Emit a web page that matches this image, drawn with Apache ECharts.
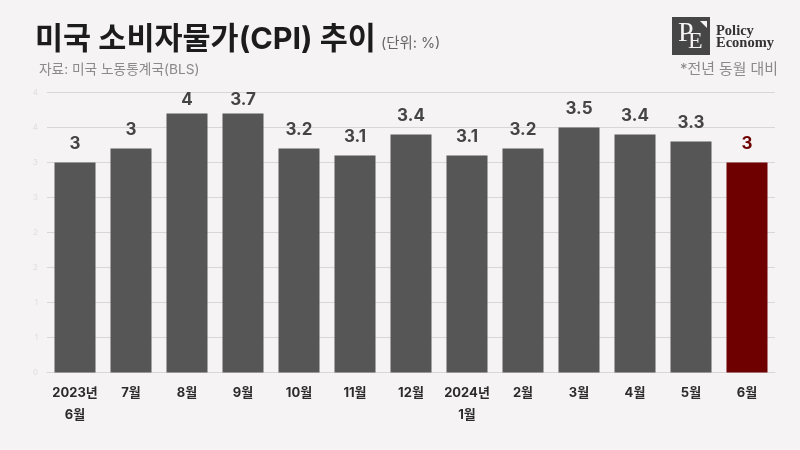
<!DOCTYPE html>
<html><head><meta charset="utf-8">
<style>html,body{margin:0;padding:0;background:#f5f3f4}#c{width:800px;height:450px}</style>
<script src="https://cdn.jsdelivr.net/npm/echarts@6/dist/echarts.min.js"></script>
</head><body><div id="c"></div>
<script>
const categories = ['2023년\n6월','7월','8월','9월','10월','11월','12월','2024년\n1월','2월','3월','4월','5월','6월'];
const values = [3, 3.2, 3.7, 3.7, 3.2, 3.1, 3.4, 3.1, 3.2, 3.5, 3.4, 3.3, 3];
const valueLabels = ['3','3','4','3.7','3.2','3.1','3.4','3.1','3.2','3.5','3.4','3.3','3'];
const yTickLabels = ['0','1','1','2','2','3','3','4','4'];
const FONT = 'Inter, "Noto Sans CJK KR", sans-serif';
const chart = echarts.init(document.getElementById('c'), null, {renderer:'canvas'});
chart.setOption({
  backgroundColor:'#f5f3f4',
  animation:false,
  textStyle:{fontFamily:FONT},
  grid:{left:47,right:25,top:92.5,bottom:77.5,containLabel:false},
  xAxis:{type:'category',data:categories,
    axisLine:{show:true,lineStyle:{color:'#d8d6d7',width:1}},
    axisTick:{show:false},
    axisLabel:{color:'#2b2b2b',fontSize:13,fontWeight:700,fontFamily:FONT,lineHeight:22,margin:10,interval:0}},
  yAxis:{type:'value',min:0,max:4,interval:0.5,
    axisLine:{show:false},axisTick:{show:false},
    splitLine:{lineStyle:{color:'#d8d6d7',width:1}},
    axisLabel:{color:'#dfddde',fontSize:8,margin:9,fontFamily:FONT,
      formatter:(v)=>yTickLabels[Math.round(v*2)]}},
  series:[{type:'bar',barWidth:41,
    data:values.map((v,i)=>({value:v,
      itemStyle:{color:i===values.length-1?'#6e0000':'#565656'},
      label:{color:i===values.length-1?'#6e0000':'#444444',distance:v>=3.7?5:10}})),
    label:{show:true,position:'top',fontSize:17,fontWeight:700,fontFamily:FONT,
      formatter:(p)=>valueLabels[p.dataIndex]}}],
  graphic:[
    {type:'text',left:35,top:25,style:{text:'미국 소비자물가(CPI) 추이',fontSize:30.5,fontWeight:700,fill:'#1c1c1c',fontFamily:FONT}},
    {type:'text',left:381,top:36,style:{text:'(단위: %)',fontSize:14.4,fill:'#666666',fontFamily:FONT}},
    {type:'text',left:39,top:63,style:{text:'자료: 미국 노동통계국(BLS)',fontSize:13.7,fill:'#8a8a8a',fontFamily:FONT}},
    {type:'text',right:22,top:62,style:{text:'*전년 동월 대비',fontSize:14.9,fill:'#8a8a8a',fontFamily:FONT}},
    {type:'rect',shape:{x:672,y:17,width:38,height:38},style:{fill:'#464646'}},
    {type:'polygon',shape:{points:[[700,21],[707,21],[707,28]]},style:{fill:'#f5f3f4'}},
    {type:'text',x:678,y:20,style:{text:'P',fontSize:28,fill:'#f5f3f4',fontFamily:'"Liberation Serif", serif'}},
    {type:'text',x:688,y:30,style:{text:'E',fontSize:24,fill:'#f5f3f4',fontFamily:'"Liberation Serif", serif'}},
    {type:'text',x:716,y:24,style:{text:'Policy',fontSize:14.5,fontWeight:700,fill:'#333333',fontFamily:'"Liberation Serif", serif'}},
    {type:'text',x:716,y:36,style:{text:'Economy',fontSize:14.5,fontWeight:700,fill:'#333333',fontFamily:'"Liberation Serif", serif'}}
  ]
});
</script></body></html>
